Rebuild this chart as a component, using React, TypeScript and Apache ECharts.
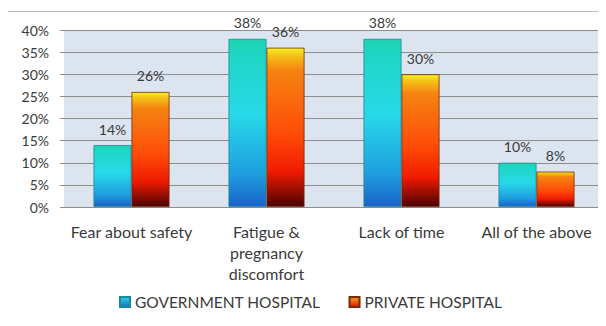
import React, { useEffect, useRef } from "react";
import * as echarts from "echarts";

const categories = [
  "Fear about safety",
  "Fatigue &\npregnancy\ndiscomfort",
  "Lack of time",
  "All of the above",
];
const governmentHospital = [14, 38, 38, 10];
const privateHospital = [26, 36, 30, 8];
const yTicks = [0, 5, 10, 15, 20, 25, 30, 35, 40];

const FONT = "Lato, 'Open Sans', sans-serif";
const TEXT = "#3a3a3a";

const tealFill = new echarts.graphic.LinearGradient(0, 0, 0, 1, [
  { offset: 0, color: "#1fd3b0" },
  { offset: 0.08, color: "#1fd6c4" },
  { offset: 0.45, color: "#27d9e8" },
  { offset: 0.8, color: "#1f9fe0" },
  { offset: 1, color: "#1a62c8" },
]);
const orangeFill = new echarts.graphic.LinearGradient(0, 0, 0, 1, [
  { offset: 0, color: "#f2f22a" },
  { offset: 0.04, color: "#f5c818" },
  { offset: 0.14, color: "#f58410" },
  { offset: 0.55, color: "#ff4a08" },
  { offset: 0.78, color: "#f01a00" },
  { offset: 1, color: "#4a0202" },
]);
const tealIcon = new echarts.graphic.LinearGradient(0, 0, 0, 1, [
  { offset: 0, color: "#2ad6e0" },
  { offset: 1, color: "#1a70c8" },
]);
const orangeIcon = new echarts.graphic.LinearGradient(0, 0, 0, 1, [
  { offset: 0, color: "#f5a020" },
  { offset: 1, color: "#d81a00" },
]);

export default function App() {
  const ref = useRef<HTMLDivElement>(null);

  useEffect(() => {
    if (!ref.current) return;
    const chart = echarts.init(ref.current, null, { renderer: "svg" });
    const labelStyle = {
      show: true,
      position: "top" as const,
      distance: 9,
      formatter: (p: any) => `${p.value}%`,
      color: TEXT,
      fontSize: 14,
      fontFamily: FONT,
    };
    chart.setOption({
      animation: false,
      backgroundColor: "#ffffff",
      graphic: [
        {
          type: "rect",
          shape: { x: 7.5, y: 11.5, width: 640, height: 400 },
          style: { fill: "none", stroke: "#b8b8b8", lineWidth: 1 },
          silent: true,
        },
      ],
      grid: {
        left: 64,
        top: 30,
        width: 540,
        height: 177,
        show: true,
        backgroundColor: "#dce4ef",
        borderWidth: 0,
      },
      legend: {
        bottom: 11,
        left: 114,
        itemWidth: 10,
        itemHeight: 10,
        itemGap: 28,
        icon: "rect",
        textStyle: { color: TEXT, fontSize: 15.5, fontFamily: FONT },
        data: [
          { name: "GOVERNMENT HOSPITAL", itemStyle: { color: tealIcon } },
          { name: "PRIVATE HOSPITAL", itemStyle: { color: orangeIcon } },
        ],
      },
      xAxis: {
        type: "category",
        data: categories,
        axisLine: { show: true, lineStyle: { color: "#8c8c8c", width: 1 } },
        axisTick: { show: false },
        axisLabel: {
          color: TEXT,
          fontSize: 16,
          fontFamily: FONT,
          lineHeight: 21,
          margin: 14,
          interval: 0,
        },
      },
      yAxis: {
        type: "value",
        min: yTicks[0],
        max: yTicks[yTicks.length - 1],
        interval: 5,
        axisLine: { show: false },
        axisTick: { show: true, length: 4, lineStyle: { color: "#8c8c8c" } },
        axisLabel: {
          formatter: (v: number) => `${v}%`,
          color: TEXT,
          fontSize: 14,
          fontFamily: FONT,
          margin: 15,
        },
        splitLine: { lineStyle: { color: "#8c8c8c", width: 1 } },
      },
      series: [
        {
          name: "GOVERNMENT HOSPITAL",
          type: "bar",
          data: governmentHospital,
          barWidth: 38,
          barGap: "0%",
          itemStyle: { color: tealFill, borderColor: "#1a8a9a", borderWidth: 0.8 },
          label: labelStyle,
        },
        {
          name: "PRIVATE HOSPITAL",
          type: "bar",
          data: privateHospital,
          barWidth: 38,
          barGap: "0%",
          itemStyle: { color: orangeFill, borderColor: "#7a2a08", borderWidth: 0.8 },
          label: labelStyle,
        },
      ],
    });
    return () => chart.dispose();
  }, []);

  return <div ref={ref} style={{ width: 606, height: 326, margin: -8 }} />;
}
